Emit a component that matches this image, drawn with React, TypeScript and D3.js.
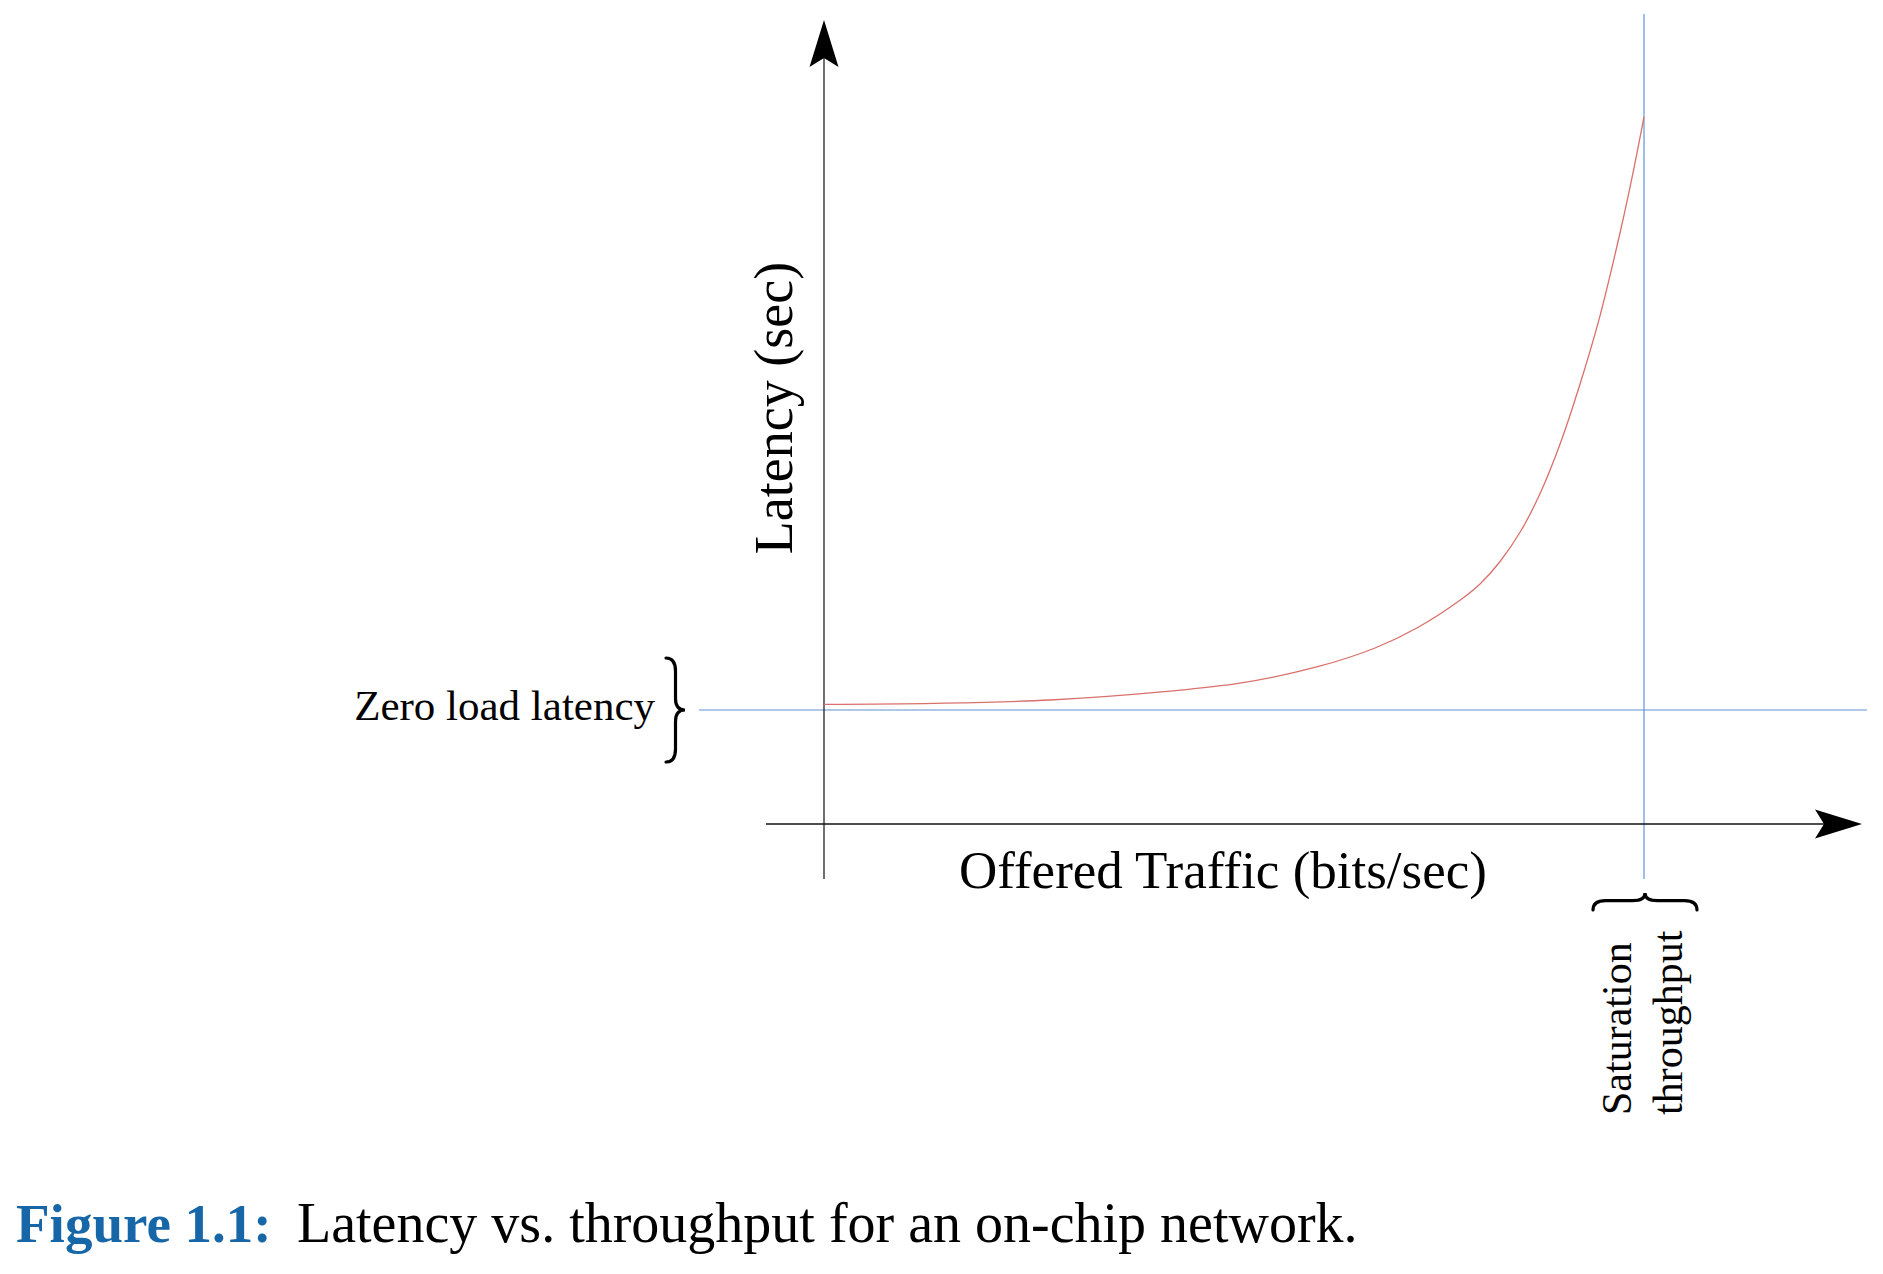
import React, { useEffect, useRef } from "react";
import * as d3 from "d3";

// offered traffic as a fraction of saturation throughput
const offeredTraffic = [0, 0.135, 0.276, 0.415, 0.509, 0.602, 0.672, 0.723, 0.776, 0.8, 0.824, 0.849, 0.873, 0.898, 0.922, 0.946, 0.971, 0.985, 1.0];
// latency (arbitrary units)
const latency = [14.96, 15.09, 15.5, 16.54, 17.63, 19.66, 22.0, 24.5, 28.0, 30.0, 32.75, 36.5, 41.25, 47.6, 55.0, 63.4, 74.0, 80.6, 88.4];

const zeroLoadLatency = 14.25;
const saturationThroughput = 1.0;

const xLabel = "Offered Traffic (bits/sec)";
const yLabel = "Latency (sec)";
const zeroLabel = "Zero load latency";
const satLabel = ["Saturation", "throughput"];
const captionHead = "Figure 1.1:";
const captionBody = "Latency vs. throughput for an on-chip network.";

const W = 1883,
  H = 1274;
const FONT = "'Liberation Serif', 'Times New Roman', serif";

// brace "}" pointing right
function vBrace(a: number, w: number, y0: number, y1: number) {
  const ym = (y0 + y1) / 2,
    h = (y1 - y0) / 2,
    c = a + w / 2;
  return `M${a},${y0} Q${c},${y0} ${c},${y0 + h * 0.25} L${c},${ym - h * 0.22} Q${c},${ym} ${a + w},${ym} Q${c},${ym} ${c},${ym + h * 0.22} L${c},${y1 - h * 0.25} Q${c},${y1} ${a},${y1}`;
}

// brace pointing up
function hBrace(a: number, b: number, yb: number, d: number) {
  const m = (a + b) / 2,
    yc = yb - d * 0.55,
    k = (b - a) * 0.12;
  return `M${a},${yb} Q${a},${yc} ${a + k},${yc} L${m - k},${yc} Q${m},${yc} ${m},${yb - d} Q${m},${yc} ${m + k},${yc} L${b - k},${yc} Q${b},${yc} ${b},${yb}`;
}

function Chart() {
  const ref = useRef<SVGSVGElement>(null);

  useEffect(() => {
    const svg = d3.select(ref.current);
    svg.selectAll("*").remove();

    const x = d3.scaleLinear().domain([0, 1]).range([824, 1644]);
    const y = d3.scaleLinear().domain([0, 100]).range([824, 24]);

    // zero load latency line
    svg
      .append("line")
      .attr("x1", 699)
      .attr("x2", 1867)
      .attr("y1", y(zeroLoadLatency))
      .attr("y2", y(zeroLoadLatency))
      .attr("stroke", "#94b6e2")
      .attr("stroke-width", 1.3);

    // saturation line
    svg
      .append("line")
      .attr("x1", x(saturationThroughput))
      .attr("x2", x(saturationThroughput))
      .attr("y1", 14)
      .attr("y2", 879)
      .attr("stroke", "#5f94d6")
      .attr("stroke-width", 1.2);

    // axes
    svg.append("line").attr("x1", x(0)).attr("x2", x(0)).attr("y1", 55).attr("y2", 879).attr("stroke", "#222").attr("stroke-width", 1.3);
    svg.append("line").attr("x1", 766).attr("x2", 1825).attr("y1", y(0)).attr("y2", y(0)).attr("stroke", "#111").attr("stroke-width", 1.5);

    // arrow heads
    const ax = x(0);
    svg
      .append("path")
      .attr("d", `M${ax},20 L${ax + 14.5},67 L${ax},58 L${ax - 14.5},67 Z`)
      .attr("fill", "#000");
    const ay = y(0);
    svg
      .append("path")
      .attr("d", `M1862,${ay} L1815,${ay - 14.5} L1824,${ay} L1815,${ay + 14.5} Z`)
      .attr("fill", "#000");

    // curve
    const pts = offeredTraffic.map((t, i) => [t, latency[i]] as [number, number]);
    const line = d3
      .line<[number, number]>()
      .x((d) => x(d[0]))
      .y((d) => y(d[1]))
      .curve(d3.curveCatmullRom.alpha(0.5));
    svg.append("path").attr("d", line(pts)).attr("fill", "none").attr("stroke", "#d9706b").attr("stroke-width", 1.3);

    // labels
    svg
      .append("text")
      .attr("transform", `translate(792, 408) rotate(-90)`)
      .attr("text-anchor", "middle")
      .style("font-family", FONT)
      .style("font-size", "54px")
      .text(yLabel);

    svg
      .append("text")
      .attr("x", 959)
      .attr("y", 888)
      .style("font-family", FONT)
      .style("font-size", "53px")
      .text(xLabel);

    svg
      .append("text")
      .attr("x", 655)
      .attr("y", 720)
      .attr("text-anchor", "end")
      .style("font-family", FONT)
      .style("font-size", "43px")
      .text(zeroLabel);

    svg.append("path").attr("d", vBrace(666, 19, 658, 762)).attr("fill", "none").attr("stroke", "#000").attr("stroke-width", 3.2).attr("stroke-linecap", "round");
    svg.append("path").attr("d", hBrace(1593, 1697, 910, 17)).attr("fill", "none").attr("stroke", "#000").attr("stroke-width", 3.2).attr("stroke-linecap", "round");

    svg
      .selectAll(".sat")
      .data(satLabel)
      .join("text")
      .attr("class", "sat")
      .attr("transform", (d, i) => `translate(${1631 + i * 51}, 1115) rotate(-90)`)
      .style("font-family", FONT)
      .style("font-size", "42px")
      .text((d) => d);

    // caption
    svg
      .append("text")
      .attr("x", 16)
      .attr("y", 1242)
      .style("font-family", FONT)
      .style("font-size", "55px")
      .style("font-weight", "bold")
      .attr("fill", "#1767a8")
      .text(captionHead);
    svg
      .append("text")
      .attr("x", 297)
      .attr("y", 1242)
      .style("font-family", FONT)
      .style("font-size", "56px")
      .text(captionBody);
  }, []);

  return <svg ref={ref} width={W} height={H} style={{ position: "absolute", left: 0, top: 0, background: "#fff" }}></svg>;
}

export default function App() {
  return <Chart />;
}
